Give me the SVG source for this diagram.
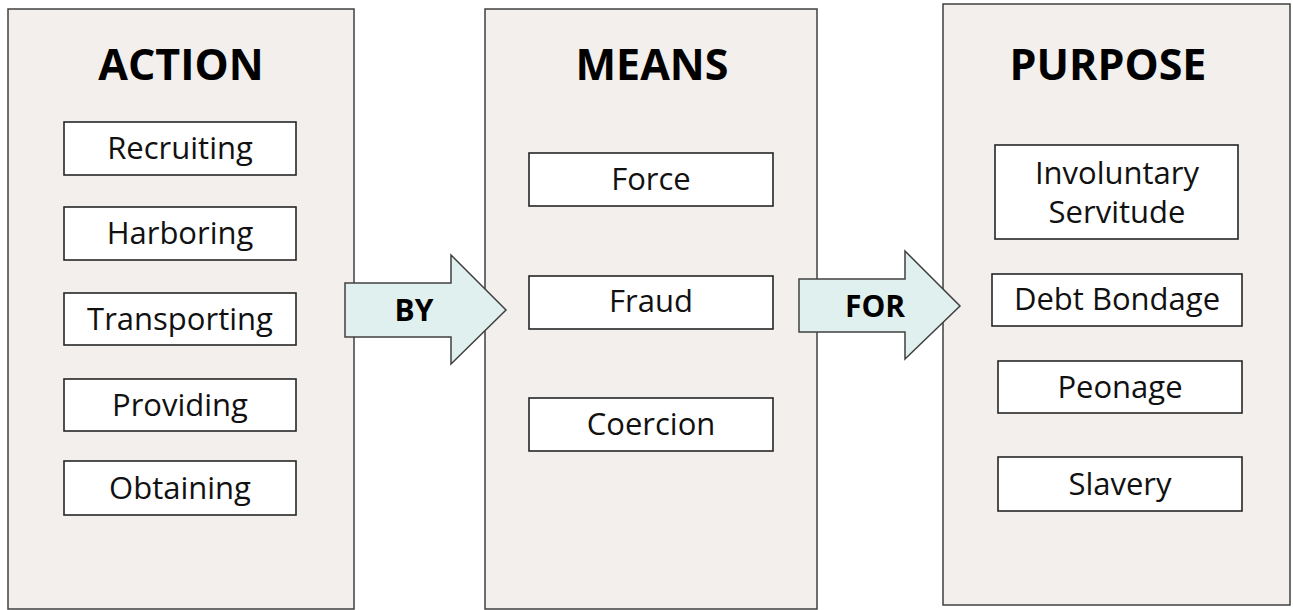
<svg xmlns="http://www.w3.org/2000/svg" width="1293" height="610" viewBox="0 0 1293 610">
<style>
.panel{fill:#f2efec;stroke:#404040;stroke-width:1.5}
.box{fill:#ffffff;stroke:#262626;stroke-width:1.6}
.title{font-family:"Open Sans","Liberation Sans",sans-serif;font-weight:bold;font-size:43px;fill:#000;text-anchor:middle}
.lbl{font-family:"Open Sans","Liberation Sans",sans-serif;font-size:31px;fill:#111;text-anchor:middle}
.arrow{fill:#e0f0ee;stroke:#404040;stroke-width:1.5}
.alab{font-family:"Open Sans","Liberation Sans",sans-serif;font-weight:bold;font-size:30px;fill:#000;text-anchor:middle}
</style>
<g id="action">
<rect class="panel" x="8" y="9" width="346" height="600"/>
<text class="title" x="181" y="80">ACTION</text>
</g>
<g id="recruiting"><rect class="box" x="64" y="122" width="232" height="53"/><text class="lbl" x="180" y="159">Recruiting</text></g>
<g id="harboring"><rect class="box" x="64" y="207" width="232" height="53"/><text class="lbl" x="180" y="244">Harboring</text></g>
<g id="transporting"><rect class="box" x="64" y="293" width="232" height="52"/><text class="lbl" x="180" y="330">Transporting</text></g>
<g id="providing"><rect class="box" x="64" y="379" width="232" height="52"/><text class="lbl" x="180" y="416">Providing</text></g>
<g id="obtaining"><rect class="box" x="64" y="461" width="232" height="54"/><text class="lbl" x="180" y="499">Obtaining</text></g>
<g id="means">
<rect class="panel" x="485" y="9" width="332" height="600"/>
<text class="title" x="652" y="80">MEANS</text>
</g>
<g id="force"><rect class="box" x="529" y="153" width="244" height="53"/><text class="lbl" x="651" y="190">Force</text></g>
<g id="fraud"><rect class="box" x="529" y="276" width="244" height="53"/><text class="lbl" x="651" y="312">Fraud</text></g>
<g id="coercion"><rect class="box" x="529" y="398" width="244" height="53"/><text class="lbl" x="651" y="435">Coercion</text></g>
<g id="purpose">
<rect class="panel" x="943" y="4" width="347" height="601"/>
<text class="title" x="1108" y="80">PURPOSE</text>
</g>
<g id="involuntary"><rect class="box" x="995" y="145" width="243" height="94"/><text class="lbl" x="1117" y="184">Involuntary</text><text class="lbl" x="1117" y="223">Servitude</text></g>
<g id="debt"><rect class="box" x="992" y="274" width="250" height="52"/><text class="lbl" x="1117" y="310">Debt Bondage</text></g>
<g id="peonage"><rect class="box" x="998" y="361" width="244" height="52"/><text class="lbl" x="1120" y="398">Peonage</text></g>
<g id="slavery"><rect class="box" x="998" y="457" width="244" height="54"/><text class="lbl" x="1120" y="495">Slavery</text></g>
<g id="connectors">
<g id="by"><path class="arrow" d="M345,283 L451,283 L451,255 L506,310 L451,364 L451,337 L345,337 Z"/><text class="alab" x="414" y="321">BY</text></g>
<g id="for"><path class="arrow" d="M799,279 L905,279 L905,251 L960,306 L905,359 L905,332 L799,332 Z"/><text class="alab" x="875" y="317">FOR</text></g>
</g>
</svg>
